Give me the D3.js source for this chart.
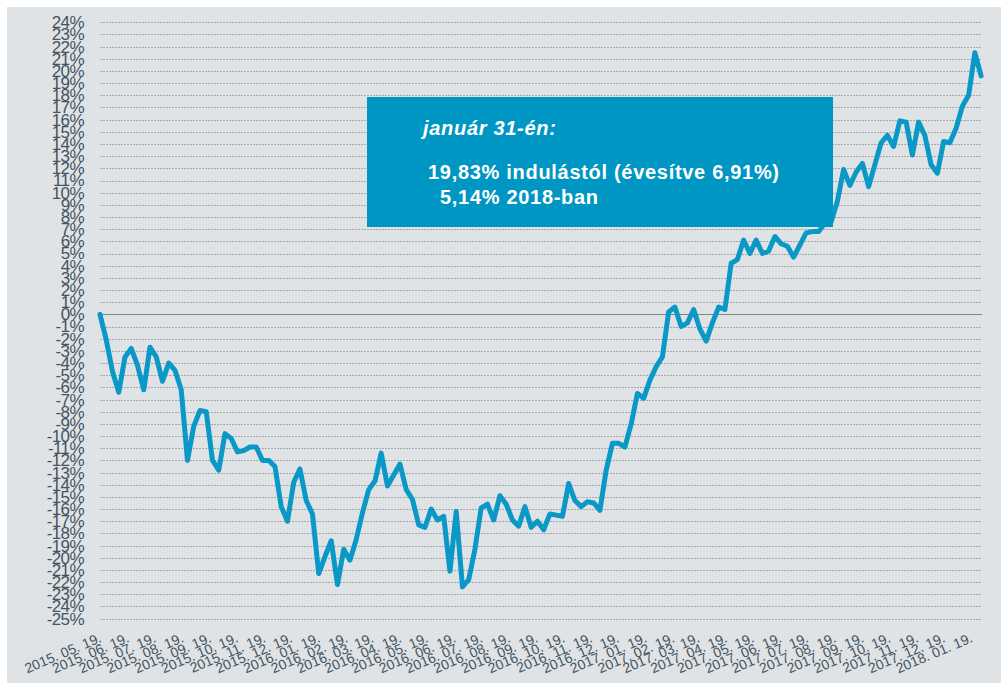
<!DOCTYPE html>
<html>
<head>
<meta charset="utf-8">
<script src="https://cdn.jsdelivr.net/npm/d3@7"></script>
<style>
  body { margin: 0; background: #ffffff; }
  svg { display: block; font-family: "Liberation Sans", Arial, sans-serif; }
</style>
</head>
<body>
<div id="chart"></div>
<script>
// weekly values (% since launch)
var start_date = new Date(2015, 4, 19);
var end_date   = new Date(2018, 0, 31);
var values = [
   0.0, -2.1, -4.7, -6.4, -3.5, -2.8, -4.2, -6.2, -2.7, -3.5,
  -5.5, -4.0, -4.6, -6.2, -12.0, -9.2, -7.9, -8.0, -12.0, -12.8,
  -9.8, -10.2, -11.3, -11.2, -10.9, -10.9, -12.0, -12.0, -12.5, -15.8,
  -17.0, -13.8, -12.7, -15.3, -16.4, -21.3, -19.9, -18.6, -22.2, -19.3,
  -20.2, -18.5, -16.3, -14.4, -13.7, -11.4, -14.1, -13.2, -12.3, -14.4,
  -15.2, -17.3, -17.5, -16.0, -16.9, -16.6, -21.1, -16.2, -22.4, -21.8,
  -19.3, -15.9, -15.6, -16.9, -14.9, -15.6, -16.9, -17.4, -15.8, -17.5,
  -17.0, -17.7, -16.4, -16.5, -16.6, -13.9, -15.3, -15.8, -15.4, -15.5,
  -16.1, -12.8, -10.6, -10.6, -10.9, -9.0, -6.5, -6.9, -5.4, -4.3,
  -3.5, 0.2, 0.6, -1.0, -0.7, 0.4, -1.2, -2.2, -0.7, 0.6,
   0.4, 4.2, 4.5, 6.1, 5.0, 6.1, 5.0, 5.2, 6.4, 5.8,
   5.6, 4.7, 5.7, 6.7, 6.8, 6.8, 7.5, 7.6, 9.3, 11.9,
  10.6, 11.7, 12.4, 10.5, 12.3, 14.1, 14.7, 13.8, 15.9, 15.8,
  13.1, 15.8, 14.7, 12.3, 11.6, 14.2, 14.1, 15.3, 17.1, 18.0,
  21.5, 19.6
];
var y_ticks = d3.range(-25, 25);   // -25% .. 24%
var tick_count = 33;               // 2015.05.19 .. 2018.01.19
var note_lines = [
  'január 31-én:',
  '19,83% indulástól (évesítve 6,91%)',
  '5,14% 2018-ban'
];

var width  = 1001;
var height = 683;
var x0 = 100, x1 = 982;

var svg = d3.select('#chart')
    .append('svg')
    .attr('width', width)
    .attr('height', height);

svg.append('rect')
   .attr('x', 7).attr('y', 7)
   .attr('width', width - 7).attr('height', height - 7)
   .attr('fill', '#dfe3e6');

var data = values.map(function(v, i) {
    return { date: d3.timeDay.offset(start_date, 7 * i), value: v };
});

var scale_x = d3.scaleTime()
    .domain([start_date, end_date])
    .range([x0, x1]);
var scale_y = d3.scaleLinear()
    .domain([-25, 24])
    .range([618.6, 22.3]);

// horizontal grid
svg.append('g')
   .selectAll('line')
   .data(y_ticks)
   .enter().append('line')
   .attr('x1', x0).attr('x2', x1)
   .attr('y1', function(d){ return Math.round(scale_y(d)) + 0.5; })
   .attr('y2', function(d){ return Math.round(scale_y(d)) + 0.5; })
   .attr('stroke', function(d){ return d === 0 ? '#7f8487' : '#a3a8ab'; })
   .attr('stroke-dasharray', function(d){ return d === 0 ? null : '2,1'; });

// y axis labels
var axis_y = d3.axisLeft(scale_y)
    .tickValues(y_ticks)
    .tickSize(0)
    .tickPadding(0)
    .tickFormat(function(d){ return d + '%'; });
var gy = svg.append('g')
   .attr('class', 'y-axis')
   .attr('transform', 'translate(84,0)')
   .call(axis_y);
gy.select('.domain').remove();
gy.selectAll('text')
  .attr('font-size', 17)
  .attr('letter-spacing', '-0.6px')
  .attr('font-family', '"Liberation Sans", Arial, sans-serif')
  .attr('fill', '#45545f');

// x axis labels, rotated
var tick_dates = d3.range(tick_count).map(function(i){ return d3.timeMonth.offset(start_date, i); });
var fmt = d3.timeFormat('%Y. %m. %d.');
var axis_x = d3.axisBottom(scale_x)
    .tickValues(tick_dates)
    .tickSize(0)
    .tickFormat(fmt);
var gx = svg.append('g')
   .attr('class', 'x-axis')
   .attr('transform', 'translate(0,637)')
   .call(axis_x);
gx.select('.domain').remove();
gx.selectAll('text')
  .attr('font-size', 14)
  .attr('font-family', '"Liberation Sans", Arial, sans-serif')
  .attr('fill', '#45545f')
  .attr('text-anchor', 'end')
  .attr('y', 0)
  .attr('dy', '0.35em')
  .attr('transform', 'rotate(-23)');

// the line
var line = d3.line()
    .x(function(d){ return scale_x(d.date); })
    .y(function(d){ return scale_y(d.value); });
svg.append('path')
   .datum(data)
   .attr('d', line)
   .attr('fill', 'none')
   .attr('stroke', '#0a98c6')
   .attr('stroke-width', 5)
   .attr('stroke-linejoin', 'round')
   .attr('stroke-linecap', 'round');

// note box
svg.append('rect')
   .attr('x', 367).attr('y', 97)
   .attr('width', 466).attr('height', 130)
   .attr('fill', '#0096c3');

var note = svg.append('g')
   .attr('fill', '#ffffff')
   .attr('font-size', 20)
   .attr('font-weight', 'bold')
   .attr('letter-spacing', '0.7px');
note.append('text').attr('x', 423).attr('y', 135).attr('font-style', 'italic').text(note_lines[0]);
note.append('text').attr('x', 428).attr('y', 179).text(note_lines[1]);
note.append('text').attr('x', 440).attr('y', 204).text(note_lines[2]);
</script>
</body>
</html>
